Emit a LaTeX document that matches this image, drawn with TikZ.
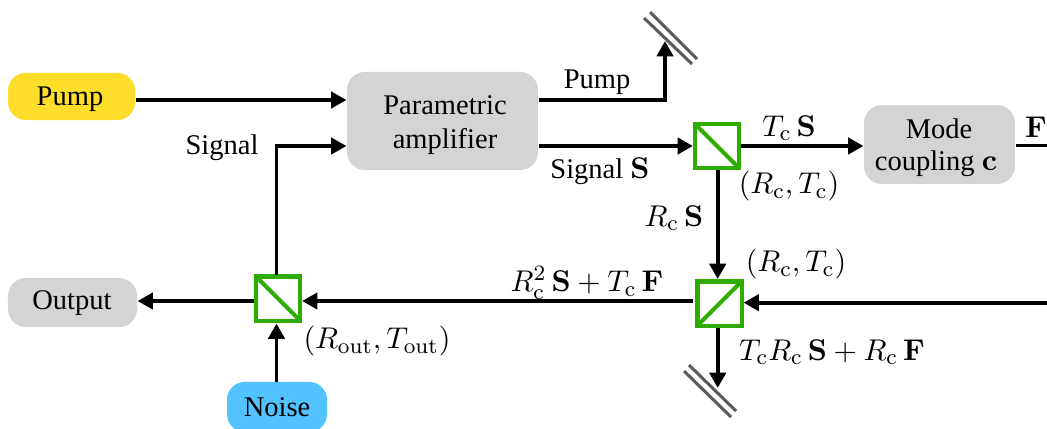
\documentclass[tikz,border=0pt,11pt]{standalone}
\usepackage[no-math]{fontspec}
\setmainfont[Scale=0.95]{Liberation Serif}
\usetikzlibrary{arrows.meta}
\definecolor{boxgray}{HTML}{D4D4D4}
\definecolor{pumpy}{HTML}{FFDD2B}
\definecolor{noiseb}{HTML}{52C3FF}
\definecolor{bsgreen}{HTML}{2FAC00}
\definecolor{mirrorgray}{HTML}{5A5A5A}
\tikzset{
  box/.style={rectangle,rounded corners=6.5pt,inner sep=0pt,align=center},
  bs/.style={rectangle,draw=bsgreen,line width=1.5pt,minimum size=16.1pt,inner sep=0pt},
  bsline/.style={draw=bsgreen,line width=1.5pt,shorten <=1.1pt,shorten >=1.1pt},
  beam/.style={draw=black,line width=1.45pt,-{Triangle[length=5.6pt,width=5.9pt]}},
  plainbeam/.style={draw=black,line width=1.45pt},
  mirror/.style={draw=mirrorgray,line width=1.1pt},
  lab/.style={inner sep=0pt,anchor=center}
}
\begin{document}
\begin{tikzpicture}[x=.365pt,y=-.365pt]
\useasboundingbox (0,0) rectangle (1047,428);
\clip (0,0) rectangle (1047,428);
% boxes
\node[box,fill=pumpy,minimum width=46.4pt,minimum height=17.2pt] (pump) at (71.5,96.5) {};
\node[lab] at (70,99) {Pump};
\node[box,fill=boxgray,minimum width=69.7pt,minimum height=35.8pt] (pa) at (442.5,121) {};
\node[lab] at (445,105) {Parametric};
\node[lab] at (445,141) {amplifier};
\node[box,fill=boxgray,minimum width=55.1pt,minimum height=28.8pt] (mc) at (939.5,144.5) {};
\node[lab] at (939,129) {Mode};
\node[lab] at (936,164) {coupling $\mathbf{c}$};
\node[box,fill=boxgray,minimum width=47.1pt,minimum height=17.9pt] (out) at (72.5,302.5) {};
\node[lab] at (72,303) {Output};
\node[box,fill=noiseb,minimum width=36.5pt,minimum height=18.3pt] (noise) at (277,407) {};
\node[lab] at (277,407) {Noise};
% beam splitters
\node[bs] (bsa) at (717,146) {};
\draw[bsline] (bsa.north west) -- (bsa.south east);
\node[bs] (bsb) at (719.5,303.5) {};
\draw[bsline] (bsb.south west) -- (bsb.north east);
\node[bs] (bsc) at (278,298.5) {};
\draw[bsline] (bsc.north west) -- (bsc.south east);
% free ends and mirrors
\coordinate (pumptop) at (665,41);
\coordinate (mirAa) at (644,18);
\coordinate (mirAb) at (692,64);
\coordinate (mirAc) at (650,12);
\coordinate (mirAd) at (697,59);
\coordinate (mirBa) at (684,371);
\coordinate (mirBb) at (731,417);
\coordinate (mirBc) at (689,365);
\coordinate (mirBd) at (736,411);
\coordinate (Fout) at (1047,145.5);
\coordinate (Fin) at (1047,302.7);
\coordinate (bsbtip) at (717.7,388);
\draw[mirror] (mirAa) -- (mirAb);
\draw[mirror] (mirAc) -- (mirAd);
\draw[mirror] (mirBa) -- (mirBb);
\draw[mirror] (mirBc) -- (mirBd);
% connectors
\draw[beam] (pump.east |- 0,100) -- (pa.west |- 0,100);
\draw[beam] (pa.east |- 0,100) -- (pumptop |- 0,100) -- (pumptop);
\draw[beam] (pa.east |- 0,146) -- (bsa.west |- 0,146);
\draw[beam] (bsa.east) -- (mc.west |- bsa.east);
\draw[plainbeam] (mc.east |- Fout) -- (Fout);
\draw[beam] (717.7,170) -- (717.7,279);
\draw[beam] (Fin) -- (bsb.east |- Fin);
\draw[beam] (693,301) -- (bsc.east |- 0,301);
\draw[beam] (bsc.west |- 0,301) -- (out.east |- 0,301);
\draw[beam] (276.5,382) -- (276.5,323.5);
\draw[beam] (276.5,274.5) -- (276.5,146) -- (pa.west |- 0,146);
\draw[beam] (717.7,328) -- (bsbtip);
% labels
\node[lab] at (597,82) {Pump};
\node[lab] at (600,171) {Signal $\mathbf{S}$};
\node[lab] at (222,148) {Signal};
\node[lab] at (789,128) {$T_{\mathrm{c}}\,\mathbf{S}$};
\node[lab] at (789,186) {$(R_{\mathrm{c}},T_{\mathrm{c}})$};
\node[lab] at (674,218) {$R_{\mathrm{c}}\,\mathbf{S}$};
\node[lab] at (796,264) {$(R_{\mathrm{c}},T_{\mathrm{c}})$};
\node[lab] at (832,352) {$T_{\mathrm{c}}R_{\mathrm{c}}\,\mathbf{S}+R_{\mathrm{c}}\,\mathbf{F}$};
\node[lab] at (587,283) {$R_{\mathrm{c}}^2\,\mathbf{S}+T_{\mathrm{c}}\,\mathbf{F}$};
\node[lab] at (377,341) {$(R_{\mathrm{out}},T_{\mathrm{out}})$};
\node[lab] at (1036,127) {$\mathbf{F}$};
\end{tikzpicture}
\end{document}
